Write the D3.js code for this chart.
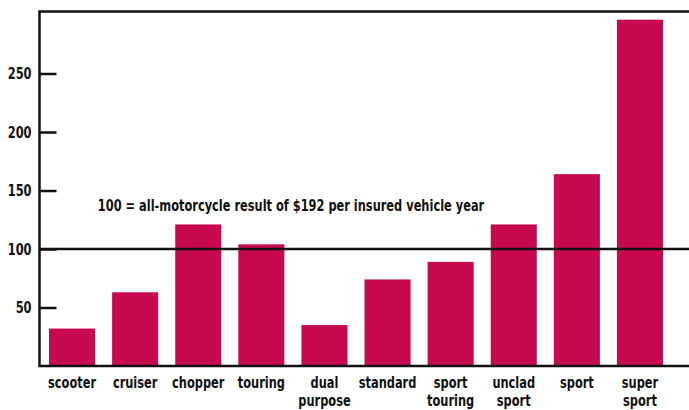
<!DOCTYPE html>
<html>
<head>
<meta charset="utf-8">
<script src="https://cdn.jsdelivr.net/npm/d3@7"></script>
<style>
    html, body { margin: 0; padding: 0; background: #fff; }
    svg { display: block; }
    text {
        font-family: "DejaVu Sans", sans-serif;
        font-weight: bold;
        fill: #111;
    }
</style>
</head>
<body>
<svg id="chart" width="689" height="410"></svg>
<script>
/*global d3*/
var categories = ["scooter", "cruiser", "chopper", "touring", "dual purpose",
        "standard", "sport touring", "unclad sport", "sport", "super sport"],
    categoryLines = [["scooter"], ["cruiser"], ["chopper"], ["touring"], ["dual", "purpose"],
        ["standard"], ["sport", "touring"], ["unclad", "sport"], ["sport"], ["super", "sport"]],
    values = [32, 63, 121, 104, 35, 74, 89, 121, 164, 296],
    yTicks = [50, 100, 150, 200, 250],
    baseline = 100,
    note = "100 = all-motorcycle result of $192 per insured vehicle year";

(function () {
    "use strict";
    var svg = d3.select("#chart"),
        squeeze = 0.713, //no condensed font installed, so narrow the glyphs by hand
        left = 39.5,
        right = 689,
        top = 11.5,
        bottom = 366,
        x = d3.scaleBand().domain(categories).range([40.5, 671.5])
            .paddingInner(0.27).paddingOuter(0.135),
        y = d3.scaleLinear().domain([0, 303]).range([bottom, top]),
        yAxis;

    //bars
    svg.append("g").selectAll("rect")
        .data(values)
        .join("rect")
        .attr("x", function (d, i) { return x(categories[i]); })
        .attr("y", function (d) { return y(d); })
        .attr("width", x.bandwidth())
        .attr("height", function (d) { return y(0) - y(d); })
        .attr("fill", "#c70a4f");

    //frame: top line, left axis, bottom axis
    svg.append("path")
        .attr("d", "M" + right + "," + top + "H" + left + "V" + bottom + "H" + right)
        .attr("fill", "none")
        .attr("stroke", "#111")
        .attr("stroke-width", 2.5);

    //left axis ticks and labels
    yAxis = d3.axisLeft(y).tickValues(yTicks).tickSizeInner(-17).tickSizeOuter(0).tickPadding(8);
    svg.append("g")
        .attr("transform", "translate(" + left + ",0)")
        .call(yAxis)
        .call(function (g) {
            g.select(".domain").remove();
            g.selectAll(".tick line").attr("stroke", "#111").attr("stroke-width", 2.5);
            g.selectAll(".tick text")
                .attr("font-size", 16)
                .attr("fill", "#111")
                .attr("font-family", null)
                .attr("x", -8 / squeeze)
                .attr("transform", "scale(" + squeeze + ",1)");
        });

    //reference line at 100
    svg.append("line")
        .attr("x1", left).attr("x2", right)
        .attr("y1", y(baseline)).attr("y2", y(baseline))
        .attr("stroke", "#111")
        .attr("stroke-width", 2.5);

    //note text
    svg.append("text")
        .attr("transform", "translate(291,210.5) scale(" + squeeze + ",1)")
        .attr("text-anchor", "middle")
        .attr("font-size", 16)
        .text(note);

    //category labels
    svg.append("g").selectAll("text")
        .data(categoryLines)
        .join("text")
        .attr("text-anchor", "middle")
        .attr("font-size", 16)
        .attr("transform", function (d, i) {
            return "translate(" + (x(categories[i]) + x.bandwidth() / 2) + ",388) scale(" + squeeze + ",1)";
        })
        .selectAll("tspan")
        .data(function (d) { return d; })
        .join("tspan")
        .attr("x", 0)
        .attr("y", function (d, i) { return i * 18; })
        .text(function (d) { return d; });
}());
</script>
</body>
</html>
